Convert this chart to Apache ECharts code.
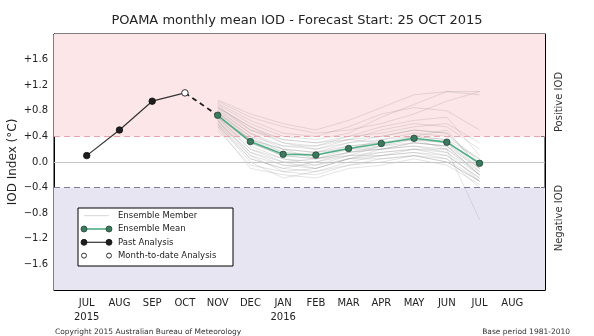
<!DOCTYPE html>
<html>
<head>
<meta charset="utf-8">
<script src="https://cdn.jsdelivr.net/npm/echarts@6/dist/echarts.min.js"></script>
<style>
  html, body { margin: 0; padding: 0; background: #fff; }
  #container { width: 594px; height: 336px; }
</style>
</head>
<body>
<div id="container"></div>
<script>
var dom = document.getElementById('container');
var myChart = echarts.init(dom, null, { renderer: 'canvas' });

// month index 0 = JUL 2015
var monthLabels = ['JUL\n2015', 'AUG', 'SEP', 'OCT', 'NOV', 'DEC', 'JAN\n2016', 'FEB', 'MAR', 'APR', 'MAY', 'JUN', 'JUL', 'AUG'];

// past analysis JUL..SEP, month-to-date OCT
var pastMonths = [0, 1, 2];
var pastValues = [0.10, 0.50, 0.95];
var mtdMonth = 3;
var mtdValue = 1.08;

// forecast months NOV 2015 .. JUL 2016
var fcMonths = [4, 5, 6, 7, 8, 9, 10, 11, 12];
var meanValues = [0.73, 0.32, 0.12, 0.11, 0.21, 0.29, 0.37, 0.31, -0.02];

// ensemble members
var members = [
    [0.95, 0.70, 0.55, 0.45, 0.50, 0.60, 0.75, 0.95, 1.10],
    [0.90, 0.60, 0.40, 0.35, 0.45, 0.70, 0.90, 1.10, 1.05],
    [0.85, 0.55, 0.30, 0.20, 0.35, 0.50, 0.60, 0.55, 0.20],
    [0.80, 0.45, 0.20, 0.05, 0.10, 0.25, 0.40, 0.35, -0.10],
    [0.75, 0.30, 0.10, 0.15, 0.30, 0.35, 0.45, 0.40, 0.05],
    [0.70, 0.20, 0.00, -0.10, 0.05, 0.15, 0.20, 0.10, -0.25],
    [0.65, 0.10, -0.15, -0.20, -0.05, 0.05, 0.10, 0.00, -0.30],
    [0.60, 0.05, -0.10, 0.00, 0.15, 0.20, 0.25, 0.15, -0.20],
    [0.55, -0.10, -0.20, -0.25, -0.10, -0.05, 0.05, -0.05, -0.35],
    [0.70, 0.35, 0.15, 0.10, 0.25, 0.30, 0.35, 0.30, -0.15],
    [0.78, 0.40, 0.25, 0.20, 0.30, 0.40, 0.50, 0.45, 0.00],
    [0.88, 0.50, 0.35, 0.30, 0.40, 0.45, 0.55, 0.60, 0.30],
    [0.68, 0.25, 0.05, 0.00, 0.10, 0.15, 0.20, 0.20, -0.20],
    [0.62, 0.15, -0.05, -0.05, 0.10, 0.10, 0.15, 0.05, -0.40],
    [0.74, 0.30, 0.10, 0.05, 0.20, 0.25, 0.30, 0.25, -0.10],
    [0.82, 0.45, 0.25, 0.25, 0.35, 0.30, 0.40, 0.35, 0.05],
    [0.58, 0.00, -0.25, -0.15, 0.00, 0.10, 0.15, 0.10, -0.25],
    [0.72, 0.35, 0.20, 0.15, 0.20, 0.20, 0.25, 0.20, -0.15],
    [0.92, 0.65, 0.45, 0.40, 0.55, 0.75, 0.85, 0.80, 0.50],
    [0.66, 0.20, 0.05, -0.05, 0.05, 0.20, 0.30, 0.25, -0.20],
    [0.76, 0.40, 0.15, 0.10, 0.20, 0.35, 0.40, 0.50, -0.10],
    [0.64, 0.15, 0.00, 0.05, 0.15, 0.25, 0.35, 0.20, -0.90],
    [0.84, 0.50, 0.30, 0.25, 0.40, 0.55, 0.65, 0.70, 0.10],
    [0.56, 0.05, -0.10, -0.15, -0.05, 0.00, 0.10, 0.00, -0.30],
    [0.70, 0.30, 0.10, 0.05, 0.15, 0.20, 0.30, 0.25, -0.20],
    [0.86, 0.55, 0.35, 0.30, 0.35, 0.40, 0.50, 0.45, -0.05],
    [0.60, 0.10, -0.05, -0.10, 0.05, 0.10, 0.20, 0.15, -0.30],
    [0.78, 0.35, 0.20, 0.15, 0.25, 0.30, 0.35, 0.30, -0.10],
    [0.97, 0.75, 0.60, 0.50, 0.65, 0.85, 1.05, 1.10, 1.10],
    [0.50, -0.05, -0.15, -0.10, 0.05, 0.05, 0.10, 0.05, -0.30]
];

var FONT = 'DejaVu Sans';

function pairs(xs, ys) {
    return xs.map(function (x, i) { return [x, ys[i]]; });
}

function yFmt(v) {
    var r = Math.round(v * 10) / 10;
    if (Math.abs(r) > 1.9) return '';
    if (r === 0) return '0.0';
    return (r > 0 ? '+' : '\u2212') + Math.abs(r).toFixed(1);
}

var series = [];

// background bands and reference lines
series.push({
    type: 'line', data: [], silent: true, z: 1,
    markArea: {
        silent: true,
        data: [
            [{ yAxis: 0.4, itemStyle: { color: '#fde6e8' } }, { yAxis: 2 }],
            [{ yAxis: -2, itemStyle: { color: '#e7e5f2' } }, { yAxis: -0.4 }]
        ]
    },
    markLine: {
        silent: true, symbol: 'none', label: { show: false },
        data: [
            { yAxis: 0.4, lineStyle: { color: '#e8a3ae', type: [6, 4], width: 1 } },
            { yAxis: -0.4, lineStyle: { color: '#7f7b98', type: [6, 4], width: 1.2 } },
            { yAxis: 0, lineStyle: { color: '#c4c4c4', type: 'solid', width: 1 } }
        ]
    }
});

members.forEach(function (m) {
    series.push({
        type: 'line', data: pairs(fcMonths, m), symbol: 'none', silent: true, z: 2,
        lineStyle: { color: 'rgba(140,140,140,0.3)', width: 0.8 }
    });
});

// dashed link from month-to-date to first forecast
series.push({
    type: 'line', data: [[mtdMonth, mtdValue], [fcMonths[0], meanValues[0]]],
    symbol: 'none', z: 4,
    lineStyle: { color: '#1a1a1a', width: 1.8, type: [5, 4] }
});

series.push({
    type: 'line', data: pairs(fcMonths, meanValues), z: 5,
    symbol: 'circle', symbolSize: 6.5,
    lineStyle: { color: '#4fae86', width: 1.6 },
    itemStyle: { color: '#3b7a5c', borderColor: '#24463a', borderWidth: 0.8 }
});

var pastData = pairs(pastMonths, pastValues);
pastData.push({ value: [mtdMonth, mtdValue], symbol: 'none' });
series.push({
    type: 'line', data: pastData, z: 5,
    symbol: 'circle', symbolSize: 6.5,
    lineStyle: { color: '#333', width: 1.2 },
    itemStyle: { color: '#1e1e1e', borderColor: '#111', borderWidth: 0.8 }
});

series.push({
    type: 'scatter', data: [[mtdMonth, mtdValue]], z: 6,
    symbol: 'circle', symbolSize: 6.5,
    itemStyle: { color: '#ffffff', borderColor: '#333', borderWidth: 1, opacity: 1 }
});

var tickStyle = { show: true, inside: true, length: 4, lineStyle: { color: '#000' } };
var axisLineStyle = { show: true, onZero: false, lineStyle: { color: '#000', width: 1 } };

var lgX = 78, lgY = 208;
function lgRow(i) { return lgY + 7.7 + i * 13.3; }

var option = {
    animation: false,
    backgroundColor: '#fff',
    textStyle: { fontFamily: FONT },
    title: {
        text: 'POAMA monthly mean IOD - Forecast Start: 25 OCT 2015',
        left: 'center', top: 9,
        textStyle: { fontFamily: FONT, fontSize: 13, fontWeight: 'normal', color: '#222' }
    },
    grid: {
        left: 54, right: 49, top: 34, bottom: 46,
        outerBoundsMode: 'none', containLabel: false,
        show: true, borderColor: '#000', borderWidth: 1, backgroundColor: '#fff'
    },
    xAxis: [{
        type: 'value', min: -1, max: 14, interval: 1, position: 'bottom',
        axisLine: axisLineStyle, axisTick: tickStyle, splitLine: { show: false },
        axisLabel: {
            margin: 6, color: '#222', fontFamily: FONT, fontSize: 10, lineHeight: 14,
            formatter: function (v) {
                var i = Math.round(v);
                return (i >= 0 && i < monthLabels.length) ? monthLabels[i] : '';
            }
        }
    }, {
        type: 'value', min: -1, max: 14, interval: 1, position: 'top',
        axisLine: axisLineStyle, axisTick: tickStyle, splitLine: { show: false },
        axisLabel: { show: false }
    }],
    yAxis: [{
        type: 'value', min: -2, max: 2, interval: 0.4, position: 'left',
        axisLine: axisLineStyle, axisTick: tickStyle, splitLine: { show: false },
        axisLabel: { margin: 6, color: '#222', fontFamily: FONT, fontSize: 10, formatter: yFmt },
        name: 'IOD Index (\u00b0C)', nameLocation: 'middle', nameRotate: 90, nameGap: 35,
        nameMoveOverlap: false,
        nameTextStyle: { fontFamily: FONT, fontSize: 12, color: '#222' }
    }, {
        type: 'value', min: -2, max: 2, interval: 0.4, position: 'right',
        axisLine: axisLineStyle, axisTick: tickStyle, splitLine: { show: false },
        axisLabel: { show: false }
    }],
    series: series,
    graphic: [
        { type: 'text', x: 559, y: 102, rotation: Math.PI / 2,
          style: { text: 'Positive IOD', fill: '#333', font: '10px "DejaVu Sans"', textAlign: 'center', textVerticalAlign: 'middle' } },
        { type: 'text', x: 559, y: 218, rotation: Math.PI / 2,
          style: { text: 'Negative IOD', fill: '#333', font: '10px "DejaVu Sans"', textAlign: 'center', textVerticalAlign: 'middle' } },
        { type: 'text', x: 55, y: 332,
          style: { text: 'Copyright 2015 Australian Bureau of Meteorology', fill: '#333', font: '7.5px "DejaVu Sans"', textVerticalAlign: 'middle' } },
        { type: 'text', x: 570, y: 332,
          style: { text: 'Base period 1981-2010', fill: '#333', font: '7.5px "DejaVu Sans"', textAlign: 'right', textVerticalAlign: 'middle' } },
        // legend box
        { type: 'rect', z: 10, shape: { x: lgX, y: lgY, width: 155, height: 58 },
          style: { fill: '#fff', stroke: '#000', lineWidth: 1 } },
        { type: 'line', z: 11, shape: { x1: 84, y1: lgRow(0), x2: 109, y2: lgRow(0) },
          style: { stroke: 'rgba(140,140,140,0.35)', lineWidth: 1 } },
        { type: 'line', z: 11, shape: { x1: 84, y1: lgRow(1), x2: 109, y2: lgRow(1) },
          style: { stroke: '#4fae86', lineWidth: 1.6 } },
        { type: 'circle', z: 12, shape: { cx: 84, cy: lgRow(1), r: 3 }, style: { fill: '#3b7a5c', stroke: '#24463a', lineWidth: 0.8 } },
        { type: 'circle', z: 12, shape: { cx: 109, cy: lgRow(1), r: 3 }, style: { fill: '#3b7a5c', stroke: '#24463a', lineWidth: 0.8 } },
        { type: 'line', z: 11, shape: { x1: 84, y1: lgRow(2), x2: 109, y2: lgRow(2) },
          style: { stroke: '#333', lineWidth: 1.2 } },
        { type: 'circle', z: 12, shape: { cx: 84, cy: lgRow(2), r: 3 }, style: { fill: '#1e1e1e', stroke: '#111', lineWidth: 0.8 } },
        { type: 'circle', z: 12, shape: { cx: 109, cy: lgRow(2), r: 3 }, style: { fill: '#1e1e1e', stroke: '#111', lineWidth: 0.8 } },
        { type: 'circle', z: 12, shape: { cx: 84, cy: lgRow(3), r: 2.5 }, style: { fill: '#fff', stroke: '#333', lineWidth: 1 } },
        { type: 'circle', z: 12, shape: { cx: 109, cy: lgRow(3), r: 2.5 }, style: { fill: '#fff', stroke: '#333', lineWidth: 1 } },
        { type: 'text', z: 12, x: 118, y: lgRow(0), style: { text: 'Ensemble Member', fill: '#222', font: '8.5px "DejaVu Sans"', textVerticalAlign: 'middle' } },
        { type: 'text', z: 12, x: 118, y: lgRow(1), style: { text: 'Ensemble Mean', fill: '#222', font: '8.5px "DejaVu Sans"', textVerticalAlign: 'middle' } },
        { type: 'text', z: 12, x: 118, y: lgRow(2), style: { text: 'Past Analysis', fill: '#222', font: '8.5px "DejaVu Sans"', textVerticalAlign: 'middle' } },
        { type: 'text', z: 12, x: 118, y: lgRow(3), style: { text: 'Month-to-date Analysis', fill: '#222', font: '8.5px "DejaVu Sans"', textVerticalAlign: 'middle' } }
    ]
};

myChart.setOption(option);
</script>
</body>
</html>
